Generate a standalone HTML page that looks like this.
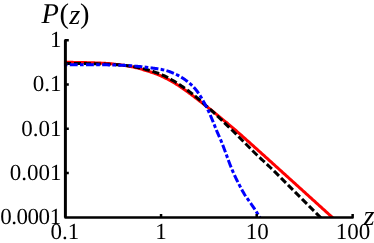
<!DOCTYPE html>
<html><head><meta charset="utf-8"><style>
html,body{margin:0;padding:0;background:#fff;overflow:hidden}
svg{display:block;will-change:transform}
text{font-family:"Liberation Serif",serif;fill:#000;text-rendering:geometricPrecision}
</style></head><body>
<svg width="374" height="243" viewBox="0 0 374 243">
<rect width="374" height="243" fill="#fff"/>
<clipPath id="c"><rect x="63.8" y="30" width="300" height="187.4"/></clipPath>
<g clip-path="url(#c)" fill="none">
<path d="M63.80,62.27 L64.70,62.28 L65.61,62.29 L66.51,62.30 L67.41,62.31 L68.32,62.31 L69.22,62.32 L70.13,62.33 L71.03,62.34 L71.93,62.36 L72.84,62.37 L73.74,62.38 L74.64,62.39 L75.55,62.40 L76.45,62.42 L77.36,62.43 L78.26,62.45 L79.16,62.46 L80.07,62.48 L80.97,62.49 L81.87,62.51 L82.78,62.53 L83.68,62.55 L84.58,62.57 L85.49,62.59 L86.39,62.61 L87.30,62.63 L88.20,62.66 L89.10,62.68 L90.01,62.70 L90.91,62.73 L91.81,62.76 L92.72,62.79 L93.62,62.82 L94.53,62.85 L95.43,62.88 L96.33,62.92 L97.24,62.95 L98.14,62.99 L99.04,63.03 L99.95,63.07 L100.85,63.11 L101.75,63.15 L102.66,63.20 L103.56,63.25 L104.47,63.30 L105.37,63.35 L106.27,63.40 L107.18,63.47 L108.08,63.54 L108.98,63.61 L109.89,63.69 L110.79,63.78 L111.69,63.86 L112.60,63.96 L113.50,64.06 L114.41,64.16 L115.31,64.26 L116.21,64.37 L117.12,64.48 L118.02,64.59 L118.92,64.70 L119.83,64.82 L120.73,64.94 L121.64,65.06 L122.54,65.19 L123.44,65.32 L124.35,65.45 L125.25,65.59 L126.15,65.73 L127.06,65.88 L127.96,66.03 L128.86,66.19 L129.77,66.36 L130.67,66.53 L131.58,66.70 L132.48,66.88 L133.38,67.07 L134.29,67.27 L135.19,67.47 L136.09,67.68 L137.00,67.90 L137.90,68.14 L138.81,68.38 L139.71,68.63 L140.61,68.88 L141.52,69.15 L142.42,69.42 L143.32,69.69 L144.23,69.97 L145.13,70.25 L146.03,70.53 L146.94,70.82 L147.84,71.10 L148.75,71.39 L149.65,71.67 L150.55,71.97 L151.46,72.26 L152.36,72.56 L153.26,72.87 L154.17,73.19 L155.07,73.51 L155.98,73.84 L156.88,74.19 L157.78,74.55 L158.69,74.92 L159.59,75.30 L160.49,75.70 L161.40,76.11 L162.30,76.53 L163.20,76.96 L164.11,77.39 L165.01,77.83 L165.92,78.29 L166.82,78.75 L167.72,79.22 L168.63,79.70 L169.53,80.19 L170.43,80.68 L171.34,81.19 L172.24,81.70 L173.15,82.22 L174.05,82.76 L174.95,83.30 L175.86,83.86 L176.76,84.42 L177.66,85.00 L178.57,85.59 L179.47,86.18 L180.37,86.79 L181.28,87.40 L182.18,88.02 L183.09,88.64 L183.99,89.27 L184.89,89.91 L185.80,90.55 L186.70,91.20 L187.60,91.85 L188.51,92.51 L189.41,93.18 L190.32,93.86 L191.22,94.53 L192.12,95.22 L193.03,95.91 L193.93,96.60 L194.83,97.29 L195.74,97.99 L196.64,98.69 L197.54,99.39 L198.45,100.09 L199.35,100.79 L200.26,101.49 L201.16,102.19 L202.06,102.89 L202.97,103.59 L203.87,104.29 L204.77,105.00 L205.68,105.70 L206.58,106.41 L207.48,107.13 L208.39,107.85 L209.29,108.57 L210.20,109.29 L211.10,110.01 L212.00,110.74 L212.91,111.46 L213.81,112.19 L214.71,112.92 L215.62,113.65 L216.52,114.38 L217.43,115.12 L218.33,115.85 L219.23,116.59 L220.14,117.33 L221.04,118.08 L221.94,118.82 L222.85,119.56 L223.75,120.30 L224.65,121.04 L225.56,121.79 L226.46,122.53 L227.37,123.28 L228.27,124.03 L229.17,124.79 L230.08,125.55 L230.98,126.31 L231.88,127.08 L232.79,127.85 L233.69,128.63 L234.60,129.42 L235.50,130.20 L236.40,130.99 L237.31,131.78 L238.21,132.57 L239.11,133.37 L240.02,134.16 L240.92,134.96 L241.82,135.75 L242.73,136.55 L243.63,137.35 L244.54,138.15 L245.44,138.95 L246.34,139.75 L247.25,140.56 L248.15,141.36 L249.05,142.17 L249.96,142.97 L250.86,143.78 L251.77,144.59 L252.67,145.40 L253.57,146.21 L254.48,147.02 L255.38,147.83 L256.28,148.64 L257.19,149.45 L258.09,150.27 L258.99,151.08 L259.90,151.89 L260.80,152.70 L261.71,153.52 L262.61,154.33 L263.51,155.14 L264.42,155.96 L265.32,156.77 L266.22,157.58 L267.13,158.40 L268.03,159.21 L268.94,160.03 L269.84,160.84 L270.74,161.66 L271.65,162.47 L272.55,163.29 L273.45,164.10 L274.36,164.92 L275.26,165.74 L276.16,166.55 L277.07,167.37 L277.97,168.18 L278.88,169.00 L279.78,169.82 L280.68,170.63 L281.59,171.45 L282.49,172.27 L283.39,173.09 L284.30,173.90 L285.20,174.72 L286.11,175.54 L287.01,176.35 L287.91,177.17 L288.82,177.99 L289.72,178.81 L290.62,179.63 L291.53,180.44 L292.43,181.26 L293.33,182.08 L294.24,182.90 L295.14,183.72 L296.05,184.53 L296.95,185.35 L297.85,186.17 L298.76,186.99 L299.66,187.81 L300.56,188.62 L301.47,189.44 L302.37,190.26 L303.27,191.08 L304.18,191.90 L305.08,192.72 L305.99,193.54 L306.89,194.35 L307.79,195.17 L308.70,195.99 L309.60,196.81 L310.50,197.63 L311.41,198.45 L312.31,199.27 L313.22,200.09 L314.12,200.91 L315.02,201.72 L315.93,202.54 L316.83,203.36 L317.73,204.18 L318.64,205.00 L319.54,205.82 L320.44,206.64 L321.35,207.46 L322.25,208.28 L323.16,209.09 L324.06,209.91 L324.96,210.73 L325.87,211.55 L326.77,212.37 L327.67,213.19 L328.58,214.01 L329.48,214.83 L330.39,215.65 L331.29,216.47 L332.19,217.29 L333.10,218.11 L334.00,218.92" stroke="#f00" stroke-width="3"/>
<path d="M63.80,63.40 L64.86,63.40 L65.92,63.41 L66.98,63.41 L68.04,63.42 L69.10,63.42 L70.16,63.43 L71.22,63.44 L72.28,63.45 L73.34,63.46 L74.40,63.47 L75.46,63.48 L76.52,63.49 L77.58,63.50 L78.64,63.52 L79.70,63.53 L80.76,63.54 L81.82,63.56 L82.88,63.57 L83.94,63.59 L85.00,63.60 L86.06,63.62 L87.12,63.63 L88.18,63.65 L89.24,63.67 L90.30,63.69 L91.36,63.71 L92.42,63.74 L93.48,63.76 L94.54,63.79 L95.60,63.81 L96.66,63.84 L97.72,63.87 L98.78,63.90 L99.84,63.93 L100.90,63.96 L101.96,64.00 L103.02,64.03 L104.08,64.07 L105.14,64.10 L106.19,64.14 L107.25,64.19 L108.31,64.23 L109.37,64.28 L110.43,64.34 L111.49,64.39 L112.55,64.45 L113.61,64.51 L114.67,64.58 L115.72,64.64 L116.78,64.72 L117.84,64.79 L118.89,64.87 L119.95,64.95 L121.01,65.04 L122.06,65.14 L123.12,65.24 L124.18,65.35 L125.23,65.46 L126.28,65.58 L127.34,65.70 L128.39,65.83 L129.44,65.97 L130.49,66.12 L131.53,66.28 L132.58,66.46 L133.62,66.64 L134.67,66.84 L135.71,67.04 L136.75,67.25 L137.79,67.46 L138.82,67.67 L139.86,67.90 L140.89,68.14 L141.92,68.39 L142.95,68.64 L143.98,68.90 L145.01,69.17 L146.03,69.45 L147.05,69.73 L148.07,70.02 L149.09,70.31 L150.11,70.61 L151.13,70.92 L152.15,71.23 L153.16,71.54 L154.17,71.87 L155.18,72.21 L156.19,72.55 L157.19,72.90 L158.18,73.26 L159.17,73.64 L160.15,74.02 L161.13,74.42 L162.10,74.83 L163.06,75.26 L164.02,75.71 L164.98,76.18 L165.93,76.65 L166.87,77.14 L167.81,77.64 L168.75,78.14 L169.68,78.66 L170.61,79.18 L171.54,79.70 L172.45,80.23 L173.37,80.76 L174.28,81.29 L175.19,81.84 L176.09,82.40 L176.98,82.96 L177.88,83.54 L178.76,84.12 L179.65,84.70 L180.53,85.30 L181.41,85.90 L182.28,86.50 L183.15,87.10 L184.02,87.71 L184.89,88.33 L185.75,88.94 L186.61,89.56 L187.47,90.18 L188.32,90.82 L189.16,91.46 L190.00,92.11 L190.84,92.76 L191.67,93.41 L192.51,94.06 L193.34,94.72 L194.18,95.38 L195.00,96.04 L195.83,96.70 L196.65,97.37 L197.47,98.05 L198.28,98.73 L199.09,99.42 L199.88,100.12 L200.67,100.83 L201.45,101.54 L202.23,102.26 L203.02,102.98 L203.80,103.69 L204.58,104.40 L205.37,105.11 L206.16,105.82 L206.96,106.52 L207.75,107.22 L208.55,107.92 L209.34,108.62 L210.14,109.32 L210.93,110.03 L211.72,110.74 L212.50,111.45 L213.29,112.16 L214.07,112.88 L214.84,113.60 L215.62,114.33 L216.39,115.06 L217.16,115.78 L217.93,116.51 L218.69,117.25 L219.46,117.98 L220.22,118.71 L220.99,119.45 L221.75,120.18 L222.51,120.92 L223.27,121.67 L224.02,122.41 L224.78,123.15 L225.54,123.89 L226.30,124.63 L227.06,125.36 L227.83,126.10 L228.59,126.83 L229.36,127.56 L230.13,128.29 L230.90,129.02 L231.67,129.75 L232.43,130.48 L233.20,131.22 L233.96,131.96 L234.71,132.70 L235.47,133.45 L236.22,134.19 L236.97,134.94 L237.72,135.69 L238.47,136.45 L239.21,137.20 L239.96,137.95 L240.71,138.70 L241.45,139.46 L242.20,140.21 L242.94,140.97 L243.68,141.72 L244.43,142.48 L245.17,143.23 L245.91,143.99 L246.66,144.74 L247.40,145.50 L248.15,146.25 L248.90,147.00 L249.64,147.76 L250.39,148.51 L251.13,149.26 L251.88,150.01 L252.63,150.76 L253.38,151.51 L254.14,152.26 L254.89,153.00 L255.65,153.74 L256.42,154.47 L257.19,155.20 L257.96,155.93 L258.73,156.66 L259.50,157.38 L260.28,158.10 L261.06,158.82 L261.84,159.54 L262.62,160.26 L263.40,160.98 L264.18,161.70 L264.96,162.41 L265.74,163.13 L266.51,163.85 L267.29,164.58 L268.06,165.30 L268.84,166.03 L269.61,166.76 L270.37,167.49 L271.13,168.22 L271.90,168.96 L272.66,169.70 L273.41,170.44 L274.17,171.18 L274.93,171.92 L275.68,172.67 L276.44,173.41 L277.19,174.16 L277.94,174.91 L278.69,175.66 L279.44,176.41 L280.19,177.15 L280.94,177.91 L281.69,178.66 L282.44,179.41 L283.18,180.16 L283.93,180.91 L284.68,181.66 L285.43,182.41 L286.17,183.17 L286.92,183.92 L287.67,184.67 L288.42,185.42 L289.17,186.17 L289.92,186.92 L290.67,187.67 L291.42,188.42 L292.17,189.17 L292.92,189.91 L293.67,190.66 L294.42,191.41 L295.17,192.16 L295.92,192.91 L296.67,193.66 L297.42,194.41 L298.17,195.16 L298.92,195.91 L299.67,196.66 L300.42,197.41 L301.17,198.16 L301.92,198.91 L302.67,199.66 L303.42,200.41 L304.17,201.16 L304.92,201.91 L305.66,202.65 L306.41,203.40 L307.16,204.15 L307.91,204.90 L308.66,205.65 L309.41,206.40 L310.16,207.15 L310.91,207.90 L311.66,208.65 L312.41,209.40 L313.16,210.15 L313.91,210.90 L314.66,211.65 L315.41,212.40 L316.15,213.15 L316.90,213.90 L317.65,214.65 L318.40,215.40 L319.15,216.15 L319.90,216.90 L320.65,217.65 L321.40,218.40 L322.15,219.15 L322.90,219.90" stroke="#000" stroke-width="3" stroke-dasharray="7 2.9" stroke-dashoffset="-0.3"/>
<path d="M63.80,64.80 L64.74,64.80 L65.69,64.80 L66.63,64.80 L67.57,64.80 L68.52,64.80 L69.46,64.80 L70.40,64.80 L71.35,64.80 L72.29,64.80 L73.23,64.80 L74.18,64.80 L75.12,64.80 L76.06,64.80 L77.01,64.80 L77.95,64.80 L78.89,64.80 L79.84,64.80 L80.78,64.80 L81.72,64.80 L82.67,64.80 L83.61,64.80 L84.55,64.80 L85.50,64.80 L86.44,64.80 L87.38,64.80 L88.33,64.80 L89.27,64.80 L90.21,64.80 L91.16,64.81 L92.10,64.81 L93.04,64.81 L93.99,64.81 L94.93,64.81 L95.87,64.82 L96.82,64.82 L97.76,64.82 L98.70,64.82 L99.65,64.83 L100.59,64.83 L101.53,64.84 L102.48,64.84 L103.42,64.84 L104.36,64.85 L105.31,64.85 L106.25,64.86 L107.19,64.87 L108.14,64.88 L109.08,64.89 L110.02,64.91 L110.97,64.93 L111.91,64.95 L112.85,64.98 L113.80,65.00 L114.74,65.03 L115.68,65.06 L116.62,65.09 L117.57,65.12 L118.51,65.15 L119.45,65.18 L120.40,65.22 L121.34,65.25 L122.28,65.29 L123.22,65.33 L124.17,65.36 L125.11,65.41 L126.05,65.45 L126.99,65.51 L127.93,65.56 L128.87,65.62 L129.82,65.68 L130.76,65.75 L131.70,65.82 L132.64,65.89 L133.58,65.97 L134.52,66.04 L135.46,66.12 L136.40,66.20 L137.34,66.28 L138.28,66.37 L139.22,66.46 L140.16,66.55 L141.09,66.65 L142.03,66.76 L142.97,66.86 L143.91,66.97 L144.84,67.08 L145.78,67.20 L146.72,67.31 L147.65,67.43 L148.59,67.55 L149.52,67.67 L150.46,67.79 L151.40,67.91 L152.33,68.03 L153.27,68.15 L154.21,68.28 L155.14,68.41 L156.07,68.55 L157.01,68.69 L157.94,68.84 L158.87,68.99 L159.80,69.15 L160.72,69.32 L161.65,69.50 L162.57,69.69 L163.50,69.90 L164.42,70.11 L165.33,70.34 L166.24,70.59 L167.15,70.84 L168.04,71.12 L168.94,71.43 L169.82,71.76 L170.70,72.11 L171.58,72.46 L172.45,72.83 L173.32,73.19 L174.19,73.56 L175.05,73.94 L175.91,74.33 L176.77,74.74 L177.62,75.15 L178.47,75.57 L179.30,76.01 L180.12,76.47 L180.93,76.94 L181.72,77.44 L182.51,77.96 L183.29,78.50 L184.07,79.04 L184.84,79.59 L185.61,80.14 L186.38,80.68 L187.14,81.24 L187.89,81.81 L188.62,82.40 L189.34,83.01 L190.05,83.64 L190.76,84.27 L191.45,84.92 L192.12,85.58 L192.79,86.25 L193.43,86.93 L194.07,87.62 L194.70,88.33 L195.31,89.04 L195.92,89.77 L196.52,90.51 L197.10,91.25 L197.67,92.01 L198.22,92.77 L198.76,93.54 L199.28,94.32 L199.79,95.11 L200.28,95.92 L200.76,96.73 L201.24,97.55 L201.71,98.37 L202.18,99.19 L202.65,100.01 L203.12,100.83 L203.58,101.65 L204.04,102.47 L204.49,103.30 L204.95,104.13 L205.39,104.96 L205.83,105.79 L206.27,106.63 L206.70,107.47 L207.13,108.31 L207.56,109.15 L207.97,110.00 L208.38,110.85 L208.77,111.70 L209.16,112.56 L209.55,113.42 L209.92,114.29 L210.30,115.15 L210.67,116.02 L211.04,116.89 L211.40,117.76 L211.77,118.63 L212.13,119.50 L212.49,120.37 L212.85,121.25 L213.21,122.12 L213.57,122.99 L213.92,123.86 L214.28,124.74 L214.62,125.62 L214.97,126.49 L215.32,127.37 L215.67,128.25 L216.02,129.12 L216.37,130.00 L216.73,130.87 L217.09,131.74 L217.46,132.61 L217.84,133.47 L218.22,134.34 L218.61,135.20 L219.00,136.06 L219.38,136.92 L219.77,137.78 L220.15,138.64 L220.53,139.51 L220.89,140.38 L221.25,141.25 L221.60,142.12 L221.95,143.00 L222.29,143.88 L222.64,144.76 L222.97,145.64 L223.31,146.52 L223.65,147.40 L223.98,148.28 L224.31,149.17 L224.64,150.05 L224.97,150.93 L225.31,151.82 L225.64,152.70 L225.97,153.58 L226.29,154.47 L226.62,155.36 L226.94,156.24 L227.26,157.13 L227.58,158.02 L227.90,158.90 L228.23,159.79 L228.55,160.68 L228.88,161.56 L229.21,162.44 L229.54,163.33 L229.88,164.21 L230.23,165.08 L230.58,165.96 L230.93,166.83 L231.29,167.71 L231.65,168.58 L232.01,169.45 L232.37,170.32 L232.74,171.19 L233.12,172.06 L233.49,172.92 L233.87,173.79 L234.26,174.65 L234.65,175.50 L235.04,176.36 L235.44,177.21 L235.85,178.07 L236.26,178.92 L236.67,179.76 L237.09,180.61 L237.51,181.45 L237.94,182.30 L238.37,183.14 L238.80,183.97 L239.24,184.81 L239.68,185.65 L240.12,186.48 L240.56,187.32 L241.00,188.15 L241.44,188.98 L241.89,189.82 L242.35,190.65 L242.81,191.47 L243.27,192.29 L243.74,193.11 L244.22,193.92 L244.71,194.72 L245.21,195.52 L245.73,196.31 L246.27,197.08 L246.82,197.85 L247.38,198.61 L247.93,199.37 L248.49,200.14 L249.03,200.91 L249.57,201.68 L250.11,202.45 L250.66,203.22 L251.20,204.00 L251.74,204.77 L252.27,205.55 L252.81,206.33 L253.34,207.11 L253.86,207.89 L254.38,208.68 L254.89,209.47 L255.40,210.26 L255.91,211.06 L256.42,211.85 L256.92,212.65 L257.43,213.44 L257.95,214.23 L258.46,215.03 L258.97,215.82 L259.49,216.61 L260.00,217.40" stroke="#00f" stroke-width="3" stroke-dasharray="3.68 2.3 7.9 2.3" stroke-dashoffset="0"/>
</g>
<g stroke="#000" stroke-width="2.5" fill="none" stroke-linejoin="round">
<path d="M68.80000000000001,40.2 H65.4 V217.4 H352.65 V214.0"/>
<path d="M65.4,84.45 h3.4 M65.4,128.70 h3.4 M65.4,172.95 h3.4 M161.05,217.4 v-3.3 M256.70,217.4 v-3.3 "/>
<path d="M65.28,40.2 V217.4" stroke-width="2.74"/>
</g>
<g font-size="23">
<text x="61.6" y="47" text-anchor="end">1</text>
<text x="61.6" y="91" text-anchor="end">0.1</text>
<text x="61.6" y="136" text-anchor="end">0.01</text>
<text x="61.6" y="180" text-anchor="end">0.001</text>
<text x="60.7" y="224" text-anchor="end" letter-spacing="-0.45">0.0001</text>
<text x="64.90" y="239" text-anchor="middle">0.1</text>
<text x="161.05" y="239" text-anchor="middle">1</text>
<text x="257.20" y="239" text-anchor="middle">10</text>
<text x="353.05" y="239" text-anchor="middle">100</text>
</g>
<text x="41.4" y="23" font-size="28.5" font-style="italic">P<tspan font-style="normal" dx="0.6">(</tspan><tspan dx="0.3" dy="1">z</tspan><tspan font-style="normal" dx="-0.4" dy="-1">)</tspan></text>
<text x="363.4" y="225" font-size="28.5" font-style="italic">z</text>
</svg></body></html>
